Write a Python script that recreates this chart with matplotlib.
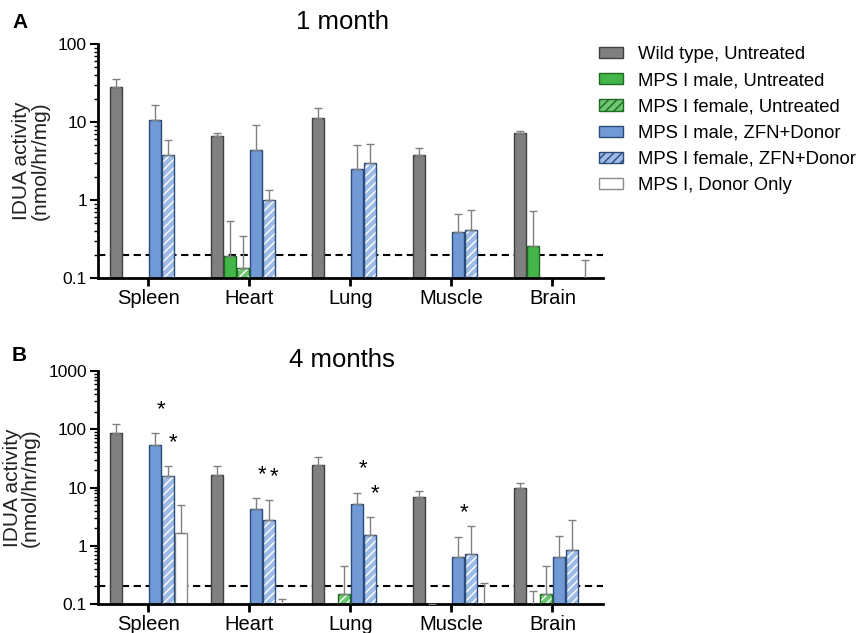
import numpy as np
import matplotlib
matplotlib.use('Agg')
import matplotlib.pyplot as plt
from matplotlib.patches import Patch

plt.rcParams['font.family'] = ['Liberation Sans', 'DejaVu Sans']
plt.rcParams['hatch.linewidth'] = 1.0

nan = np.nan
tissues = ['Spleen', 'Heart', 'Lung', 'Muscle', 'Brain']
groups = ['Wild type, Untreated', 'MPS I male, Untreated', 'MPS I female, Untreated',
          'MPS I male, ZFN+Donor', 'MPS I female, ZFN+Donor', 'MPS I, Donor Only']

# 1 month: means and upper SD, one list per group
m1_wt = [27.7, 6.57, 11.4, 3.78, 7.18]
s1_wt = [7.8, 0.63, 3.6, 0.92, 0.42]
m1_male_un = [nan, 0.19, nan, nan, 0.258]
s1_male_un = [nan, 0.35, nan, nan, 0.46]
m1_fem_un = [nan, 0.134, nan, nan, nan]
s1_fem_un = [nan, 0.21, nan, nan, nan]
m1_male_zfn = [10.5, 4.43, 2.5, 0.39, nan]
s1_male_zfn = [5.8, 4.77, 2.6, 0.27, nan]
m1_fem_zfn = [3.78, 1.0, 2.98, 0.41, nan]
s1_fem_zfn = [2.1, 0.35, 2.2, 0.34, nan]
m1_donor = [nan, nan, nan, nan, 0.05]
s1_donor = [nan, nan, nan, nan, 0.12]

# 4 months
m4_wt = [86.5, 16.7, 24.8, 6.92, 9.62]
s4_wt = [35.5, 6.8, 9.2, 1.73, 2.4]
m4_male_un = [nan, nan, nan, 0.05, 0.05]
s4_male_un = [nan, nan, nan, 0.052, 0.12]
m4_fem_un = [nan, nan, 0.148, nan, 0.148]
s4_fem_un = [nan, nan, 0.30, nan, 0.30]
m4_male_zfn = [53.9, 4.25, 5.25, 0.65, 0.63]
s4_male_zfn = [31.5, 2.31, 2.95, 0.78, 0.85]
m4_fem_zfn = [15.6, 2.79, 1.56, 0.73, 0.86]
s4_fem_zfn = [7.9, 3.36, 1.54, 1.44, 1.89]
m4_donor = [1.65, 0.05, nan, 0.05, nan]
s4_donor = [3.39, 0.072, nan, 0.18, nan]

# significance stars at 4 months (group index, tissue index)
stars_4m = [(3, 0), (4, 0), (3, 1), (4, 1), (3, 2), (4, 2), (3, 3)]

detection_limit = 0.2

# face, edge, hatch per group
styles = [
    ('#808080', '#404040', None),
    ('#44b649', '#1f6a23', None),
    ('#6dc76f', '#1f6a23', '////'),
    ('#7099d5', '#2b4b7b', None),
    ('#9dbbe6', '#2b4b7b', '////'),
    ('#ffffff', '#8a8a8a', None),
]

slot = 0.128
width = 0.115


def draw_panel(ax, means, sds, ymax, stars=()):
    x = np.arange(len(tissues))
    ax.axhline(detection_limit, color='black', ls=(0, (3.5, 2.2)), lw=1.5, zorder=1)
    for k, (m, s) in enumerate(zip(means, sds)):
        face, edge, hatch = styles[k]
        m = np.array(m, dtype=float)
        s = np.array(s, dtype=float)
        ok = ~np.isnan(m)
        xs = x[ok] + (k - 2.5) * slot
        if hatch:
            ax.bar(xs, m[ok], width, color=face, edgecolor='white', hatch=hatch,
                   linewidth=0, zorder=2)
            ax.bar(xs, m[ok], width, fill=False, edgecolor=edge, linewidth=1, zorder=3)
        else:
            ax.bar(xs, m[ok], width, color=face, edgecolor=edge, linewidth=1, zorder=2)
        ax.errorbar(xs, m[ok], yerr=[np.zeros(ok.sum()), s[ok]], fmt='none',
                    ecolor='#808080', elinewidth=1, capsize=3, capthick=1, zorder=4)
    for k, i in stars:
        top = means[k][i] + sds[k][i]
        ax.annotate('*', (i + (k - 2.5) * slot, top), xytext=(4, 17),
                    textcoords='offset points', ha='center', va='center', fontsize=16)

    ax.set_yscale('log')
    ax.set_ylim(0.1, ymax)
    ax.set_xlim(-0.5, len(tissues) - 0.5)
    ax.set_xticks(x)
    ax.set_xticklabels(tissues, fontsize=14.5)
    ticks = [10.0 ** p for p in range(-1, int(np.log10(ymax)) + 1)]
    ax.set_yticks(ticks)
    ax.set_yticklabels(['%g' % t for t in ticks], fontsize=12.5)
    ax.spines['top'].set_visible(False)
    ax.spines['right'].set_visible(False)
    ax.spines['left'].set_linewidth(2)
    ax.spines['bottom'].set_linewidth(2)
    ax.tick_params(axis='x', length=6, width=2, pad=2)
    ax.tick_params(axis='y', which='major', length=6, width=1.5, pad=2)
    ax.tick_params(axis='y', which='minor', length=3, width=1)
    ax.set_ylabel('IDUA activity\n(nmol/hr/mg)', fontsize=15, color='#222222',
                  labelpad=6, linespacing=0.95)


fig = plt.figure(figsize=(8.68, 6.33), dpi=100)
ax1 = fig.add_axes([0.1129, 0.5608, 0.5818, 0.3697])
ax2 = fig.add_axes([0.1129, 0.0458, 0.5818, 0.3681])

draw_panel(ax1,
           [m1_wt, m1_male_un, m1_fem_un, m1_male_zfn, m1_fem_zfn, m1_donor],
           [s1_wt, s1_male_un, s1_fem_un, s1_male_zfn, s1_fem_zfn, s1_donor], 100)
draw_panel(ax2,
           [m4_wt, m4_male_un, m4_fem_un, m4_male_zfn, m4_fem_zfn, m4_donor],
           [s4_wt, s4_male_un, s4_fem_un, s4_male_zfn, s4_fem_zfn, s4_donor], 1000,
           stars=stars_4m)

fig.text(342 / 868, 1 - 22 / 633, '1 month', fontsize=18.5, ha='center', va='center')
fig.text(342 / 868, 1 - 360 / 633, '4 months', fontsize=18.5, ha='center', va='center')
fig.text(12 / 868, 1 - 22 / 633, 'A', fontsize=15, weight='bold', va='center')
fig.text(12 / 868, 1 - 355 / 633, 'B', fontsize=15, weight='bold', va='center')

handles = []
for (face, edge, hatch), lab in zip(styles, groups):
    if hatch:
        handles.append(Patch(facecolor=face, edgecolor=edge, hatch=hatch, label=lab))
    else:
        handles.append(Patch(facecolor=face, edgecolor=edge, label=lab))
fig.legend(handles=handles, loc='upper left', bbox_to_anchor=(599 / 868, 1 - 46 / 633),
           frameon=False, fontsize=13.3, borderpad=0, borderaxespad=0,
           handlelength=1.3, handleheight=0.55, handletextpad=0.8, labelspacing=0.5)

fig.savefig('out.png', dpi=100)
